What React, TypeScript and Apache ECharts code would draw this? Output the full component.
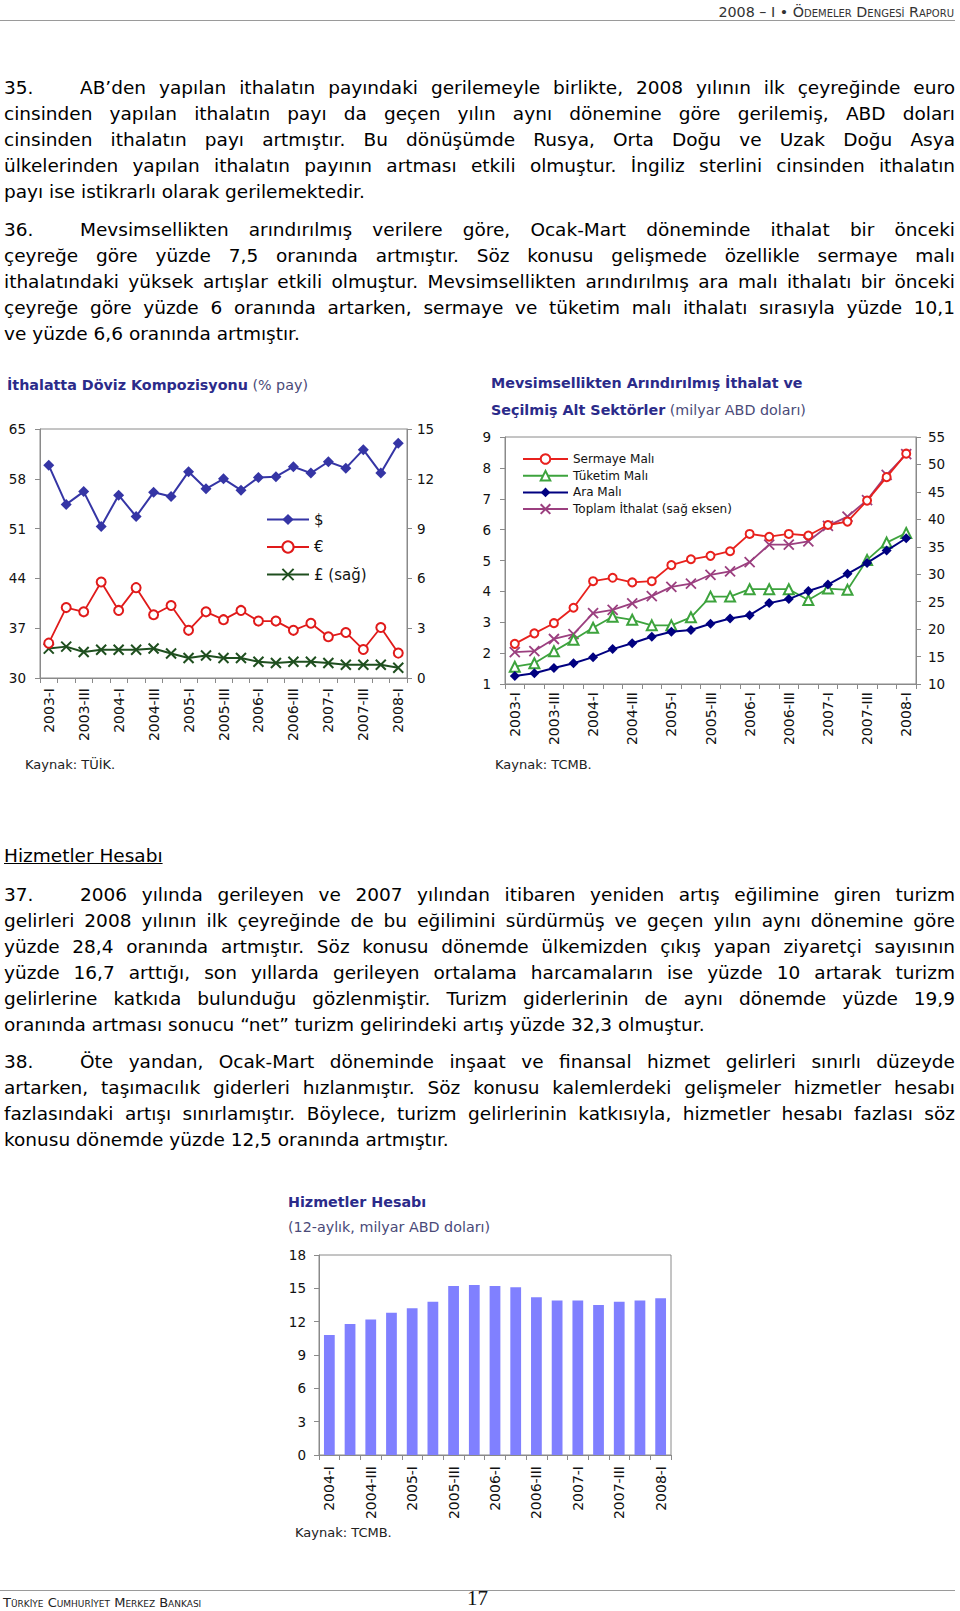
import React, { useEffect, useRef } from "react";
import * as echarts from "echarts";

const FONT = "'DejaVu Sans', sans-serif";

// ---------- DATA ----------
const quarters0308 = [
  "2003-I", "2003-II", "2003-III", "2003-IV",
  "2004-I", "2004-II", "2004-III", "2004-IV",
  "2005-I", "2005-II", "2005-III", "2005-IV",
  "2006-I", "2006-II", "2006-III", "2006-IV",
  "2007-I", "2007-II", "2007-III", "2007-IV",
  "2008-I",
];
const quarters0408 = [
  "2004-I", "2004-II", "2004-III", "2004-IV",
  "2005-I", "2005-II", "2005-III", "2005-IV",
  "2006-I", "2006-II", "2006-III", "2006-IV",
  "2007-I", "2007-II", "2007-III", "2007-IV",
  "2008-I",
];

// İthalatta Döviz Kompozisyonu (% pay)
const usdShare = [59.9, 54.4, 56.2, 51.3, 55.7, 52.7, 56.1, 55.5, 59.0, 56.6, 58.0, 56.4, 58.2, 58.3, 59.7, 58.8, 60.4, 59.5, 62.1, 58.8, 63.0];
const eurShare = [34.9, 39.9, 39.3, 43.5, 39.5, 42.7, 38.9, 40.2, 36.7, 39.3, 38.2, 39.5, 38.0, 38.0, 36.7, 37.7, 35.8, 36.4, 34.0, 37.1, 33.5];
const gbpShare = [1.77, 1.89, 1.57, 1.70, 1.70, 1.70, 1.78, 1.48, 1.20, 1.36, 1.20, 1.20, 0.98, 0.90, 0.98, 0.98, 0.90, 0.80, 0.80, 0.80, 0.62];
const shareLeftTicks = [30, 37, 44, 51, 58, 65];

// Mevsimsellikten Arındırılmış İthalat (milyar ABD doları)
const sermayeMali = [2.30, 2.64, 2.97, 3.47, 4.33, 4.44, 4.29, 4.33, 4.85, 5.04, 5.15, 5.30, 5.86, 5.77, 5.86, 5.81, 6.15, 6.26, 6.94, 7.70, 8.46];
const tuketimMali = [1.56, 1.67, 2.06, 2.43, 2.82, 3.18, 3.08, 2.90, 2.90, 3.16, 3.83, 3.83, 4.07, 4.07, 4.07, 3.72, 4.09, 4.05, 5.02, 5.58, 5.89];
const araMali = [1.26, 1.35, 1.52, 1.67, 1.87, 2.13, 2.32, 2.53, 2.69, 2.75, 2.95, 3.12, 3.23, 3.62, 3.75, 4.01, 4.22, 4.57, 4.92, 5.32, 5.72];
const toplamIthalat = [15.8, 16.0, 18.2, 19.1, 22.9, 23.5, 24.7, 26.0, 27.7, 28.3, 29.9, 30.5, 32.2, 35.4, 35.4, 36.0, 38.8, 40.5, 43.5, 48.1, 51.9];

// Hizmetler Hesabı (12-aylık, milyar ABD doları)
const hizmetlerHesabi = [10.8, 11.8, 12.2, 12.8, 13.2, 13.8, 15.2, 15.3, 15.2, 15.1, 14.2, 13.9, 13.9, 13.5, 13.8, 13.9, 14.1];

// ---------- TEXT ----------
const para35 = [
  "AB’den yapılan ithalatın payındaki gerilemeyle birlikte, 2008 yılının ilk çeyreğinde euro",
  "cinsinden yapılan ithalatın payı da geçen yılın aynı dönemine göre gerilemiş, ABD doları",
  "cinsinden ithalatın payı artmıştır. Bu dönüşümde Rusya, Orta Doğu ve Uzak Doğu Asya",
  "ülkelerinden yapılan ithalatın payının artması etkili olmuştur. İngiliz sterlini cinsinden ithalatın",
  "payı ise istikrarlı olarak gerilemektedir.",
];
const para36 = [
  "Mevsimsellikten arındırılmış verilere göre, Ocak-Mart döneminde ithalat bir önceki",
  "çeyreğe göre yüzde 7,5 oranında artmıştır. Söz konusu gelişmede özellikle sermaye malı",
  "ithalatındaki yüksek artışlar etkili olmuştur. Mevsimsellikten arındırılmış ara malı ithalatı bir önceki",
  "çeyreğe göre yüzde 6 oranında artarken, sermaye ve tüketim malı ithalatı sırasıyla yüzde 10,1",
  "ve yüzde 6,6 oranında artmıştır.",
];
const para37 = [
  "2006 yılında gerileyen ve 2007 yılından itibaren yeniden artış eğilimine giren turizm",
  "gelirleri 2008 yılının ilk çeyreğinde de bu eğilimini sürdürmüş ve geçen yılın aynı dönemine göre",
  "yüzde 28,4 oranında artmıştır. Söz konusu dönemde ülkemizden çıkış yapan ziyaretçi sayısının",
  "yüzde 16,7 arttığı, son yıllarda gerileyen ortalama harcamaların ise yüzde 10 artarak turizm",
  "gelirlerine katkıda bulunduğu gözlenmiştir. Turizm giderlerinin de aynı dönemde yüzde 19,9",
  "oranında artması sonucu “net” turizm gelirindeki artış yüzde 32,3 olmuştur.",
];
const para38 = [
  "Öte yandan, Ocak-Mart döneminde inşaat ve finansal hizmet gelirleri sınırlı düzeyde",
  "artarken, taşımacılık giderleri hızlanmıştır. Söz konusu kalemlerdeki gelişmeler hizmetler hesabı",
  "fazlasındaki artışı sınırlamıştır. Böylece, turizm gelirlerinin katkısıyla, hizmetler hesabı fazlası söz",
  "konusu dönemde yüzde 12,5 oranında artmıştır.",
];

const X_SYMBOL = "path://M0,0L10,10M10,0L0,10";
const AXIS_GREY = "#8a8a8a";

const xCat = (gridIndex: number, data: string[], margin: number) => ({
  type: "category",
  gridIndex,
  data,
  boundaryGap: true,
  axisLine: { show: true, lineStyle: { color: AXIS_GREY, width: 1 } },
  axisTick: { show: true, interval: 0, length: 5, lineStyle: { color: AXIS_GREY } },
  axisLabel: { interval: 1, rotate: 90, fontSize: 14, fontFamily: FONT, color: "#111", margin },
  splitLine: { show: false },
});

const yVal = (gridIndex: number, position: string, min: number, max: number, interval: number | undefined, margin: number, fontSize = 13.5) => ({
  type: "value",
  gridIndex,
  position,
  min,
  max,
  interval,
  axisLine: { show: true, onZero: false, lineStyle: { color: AXIS_GREY, width: 1 } },
  axisTick: { show: true, length: 5, lineStyle: { color: AXIS_GREY } },
  axisLabel: { fontSize, fontFamily: FONT, color: "#111", margin },
  splitLine: { show: false },
});

const titleRich = {
  b: { fontFamily: FONT, fontWeight: "bold", fontSize: 14.3, color: "#2B2B8A", lineHeight: 18 },
  n: { fontFamily: FONT, fontWeight: "normal", fontSize: 14.3, color: "#4A4A78", lineHeight: 18 },
};

function Line({ y, left = 4, width = 951, last = false, children }: any) {
  return (
    <div
      style={{
        position: "absolute",
        left,
        top: y - 13,
        width,
        height: 26,
        lineHeight: "26px",
        textAlign: last ? "left" : "justify",
        textAlignLast: last ? "left" : "justify",
      } as any}
    >
      {children}
    </div>
  );
}

function Paragraph({ num, lines, y0 }: { num: string; lines: string[]; y0: number }) {
  const step = 25.9;
  return (
    <>
      <Line y={y0} left={4} width={70} last>
        {num}
      </Line>
      {lines.map((t, i) => (
        <Line
          key={i}
          y={y0 + i * step}
          left={i === 0 ? 80 : 4}
          width={i === 0 ? 875 : 951}
          last={i === lines.length - 1}
        >
          {t}
        </Line>
      ))}
    </>
  );
}

export default function App() {
  const ref = useRef<HTMLDivElement>(null);

  useEffect(() => {
    if (!ref.current) return;
    const chart = echarts.init(ref.current, null, { renderer: "svg" });
    const option: any = {
      animation: false,
      backgroundColor: "transparent",
      textStyle: { fontFamily: FONT },
      title: [
        { left: 7, top: 376, padding: 0, text: "{b|İthalatta Döviz Kompozisyonu}{n| (% pay)}", textStyle: { rich: titleRich } },
        { left: 491, top: 374, padding: 0, text: "{b|Mevsimsellikten Arındırılmış İthalat ve}", textStyle: { rich: titleRich } },
        { left: 491, top: 401, padding: 0, text: "{b|Seçilmiş Alt Sektörler}{n| (milyar ABD doları)}", textStyle: { rich: titleRich } },
        { left: 288, top: 1193, padding: 0, text: "{b|Hizmetler Hesabı}", textStyle: { rich: titleRich } },
        { left: 288, top: 1218, padding: 0, text: "{n|(12-aylık, milyar ABD doları)}", textStyle: { rich: titleRich } },
      ],
      legend: [
        {
          data: ["$", "€", "£ (sağ)"],
          orient: "vertical",
          left: 266,
          top: 512,
          padding: 0,
          itemWidth: 42,
          itemHeight: 14,
          itemGap: 12.5,
          selectedMode: false,
          textStyle: { fontSize: 15, fontFamily: FONT, color: "#111" },
        },
        {
          data: ["Sermaye Malı", "Tüketim Malı", "Ara Malı", "Toplam İthalat (sağ eksen)"],
          orient: "vertical",
          left: 522,
          top: 453,
          padding: 0,
          itemWidth: 45,
          itemHeight: 12,
          itemGap: 4.7,
          selectedMode: false,
          textStyle: { fontSize: 12, fontFamily: FONT, color: "#111" },
        },
      ],
      grid: [
        { left: 40, top: 429, width: 367, height: 249, show: true, borderColor: AXIS_GREY, borderWidth: 1, backgroundColor: "transparent" },
        { left: 505, top: 437, width: 411, height: 247, show: true, borderColor: AXIS_GREY, borderWidth: 1, backgroundColor: "transparent" },
        { left: 319, top: 1255, width: 352, height: 200, show: true, borderColor: AXIS_GREY, borderWidth: 1, backgroundColor: "transparent" },
      ],
      xAxis: [
        xCat(0, quarters0308, 10),
        xCat(1, quarters0308, 8),
        xCat(2, quarters0408, 11),
      ],
      yAxis: [
        {
          ...yVal(0, "left", 30, 65, undefined, 14),
          axisLabel: { fontSize: 13.5, fontFamily: FONT, color: "#111", margin: 14, customValues: shareLeftTicks },
          axisTick: { show: true, length: 5, lineStyle: { color: AXIS_GREY }, customValues: shareLeftTicks },
        },
        yVal(0, "right", 0, 15, 3, 10),
        yVal(1, "left", 1, 9, 1, 14),
        yVal(1, "right", 10, 55, 5, 12),
        yVal(2, "left", 0, 18, 3, 13),
      ],
      series: [
        {
          name: "$",
          type: "line",
          xAxisIndex: 0,
          yAxisIndex: 0,
          data: usdShare,
          symbol: "diamond",
          symbolSize: 11,
          itemStyle: { color: "#3535A5" },
          lineStyle: { color: "#3535A5", width: 2 },
          z: 4,
        },
        {
          name: "€",
          type: "line",
          xAxisIndex: 0,
          yAxisIndex: 0,
          data: eurShare,
          symbol: "emptyCircle",
          symbolSize: 9,
          itemStyle: { color: "#E01A1A", borderWidth: 1.6 },
          lineStyle: { color: "#E01A1A", width: 1.8 },
          z: 3,
        },
        {
          name: "£ (sağ)",
          type: "line",
          xAxisIndex: 0,
          yAxisIndex: 1,
          data: gbpShare,
          symbol: X_SYMBOL,
          symbolSize: 10,
          itemStyle: { color: "#1F4F1F", borderColor: "#1F4F1F", borderWidth: 2 },
          lineStyle: { color: "#1F4F1F", width: 2 },
          z: 2,
        },
        {
          name: "Toplam İthalat (sağ eksen)",
          type: "line",
          xAxisIndex: 1,
          yAxisIndex: 3,
          data: toplamIthalat,
          symbol: X_SYMBOL,
          symbolSize: 10,
          itemStyle: { color: "#9B3F7F", borderColor: "#9B3F7F", borderWidth: 1.8 },
          lineStyle: { color: "#9B3F7F", width: 1.8 },
          z: 2,
        },
        {
          name: "Sermaye Malı",
          type: "line",
          xAxisIndex: 1,
          yAxisIndex: 2,
          data: sermayeMali,
          symbol: "emptyCircle",
          symbolSize: 8,
          itemStyle: { color: "#E8211D", borderWidth: 1.5 },
          lineStyle: { color: "#E8211D", width: 1.8 },
          z: 3,
        },
        {
          name: "Tüketim Malı",
          type: "line",
          xAxisIndex: 1,
          yAxisIndex: 2,
          data: tuketimMali,
          symbol: "emptyTriangle",
          symbolSize: 10,
          itemStyle: { color: "#3DA33D", borderWidth: 1.5 },
          lineStyle: { color: "#3DA33D", width: 1.8 },
          z: 3,
        },
        {
          name: "Ara Malı",
          type: "line",
          xAxisIndex: 1,
          yAxisIndex: 2,
          data: araMali,
          symbol: "diamond",
          symbolSize: 10,
          itemStyle: { color: "#000080" },
          lineStyle: { color: "#000080", width: 2 },
          z: 4,
        },
        {
          name: "Hizmetler Hesabı",
          type: "bar",
          xAxisIndex: 2,
          yAxisIndex: 4,
          data: hizmetlerHesabi,
          barWidth: "52%",
          itemStyle: { color: "#8080FF" },
        },
      ],
      graphic: [
        { type: "text", left: 25, top: 758, style: { text: "Kaynak: TÜİK.", fontSize: 13, fontFamily: FONT, fill: "#222" } },
        { type: "text", left: 495, top: 758, style: { text: "Kaynak: TCMB.", fontSize: 13, fontFamily: FONT, fill: "#222" } },
        { type: "text", left: 295, top: 1526, style: { text: "Kaynak: TCMB.", fontSize: 13, fontFamily: FONT, fill: "#222" } },
      ],
    };
    chart.setOption(option);
    return () => chart.dispose();
  }, []);

  return (
    <div
      lang="tr"
      style={{
        position: "absolute",
        left: 0,
        top: 0,
        width: 960,
        height: 1611,
        background: "#fff",
        fontFamily: FONT,
        fontSize: 18.5,
        color: "#000",
        overflow: "hidden",
      }}
    >
      <div ref={ref} style={{ position: "absolute", left: 0, top: 0, width: 960, height: 1611 }} />

      {/* header */}
      <div
        style={{
          position: "absolute",
          right: 6,
          top: 3,
          fontSize: 14.3,
          lineHeight: "18px",
          fontVariant: "small-caps",
          color: "#333",
          whiteSpace: "nowrap",
        }}
      >
        2008 – I • Ödemeler Dengesi Raporu
      </div>
      <div style={{ position: "absolute", left: 0, top: 20, width: 955, height: 0, borderTop: "1.5px solid #9a9a9a" }} />

      <Paragraph num="35." lines={para35} y0={88.4} />
      <Paragraph num="36." lines={para36} y0={230} />

      <div
        style={{
          position: "absolute",
          left: 4,
          top: 856 - 13,
          height: 26,
          lineHeight: "26px",
          textDecoration: "underline",
          whiteSpace: "nowrap",
        }}
      >
        Hizmetler Hesabı
      </div>

      <Paragraph num="37." lines={para37} y0={895} />
      <Paragraph num="38." lines={para38} y0={1062} />

      {/* footer */}
      <div style={{ position: "absolute", left: 0, top: 1590, width: 955, height: 0, borderTop: "1.5px solid #9a9a9a" }} />
      <div
        style={{
          position: "absolute",
          left: 3,
          top: 1595,
          fontSize: 13,
          lineHeight: "15px",
          fontVariant: "small-caps",
          color: "#222",
          whiteSpace: "nowrap",
        }}
      >
        Türkiye Cumhuriyet Merkez Bankası
      </div>
      <div
        style={{
          position: "absolute",
          left: 467,
          top: 1587,
          fontFamily: "'Liberation Serif', serif",
          fontSize: 21,
          lineHeight: "22px",
          height: 22,
          color: "#111",
        }}
      >
        17
      </div>
    </div>
  );
}
